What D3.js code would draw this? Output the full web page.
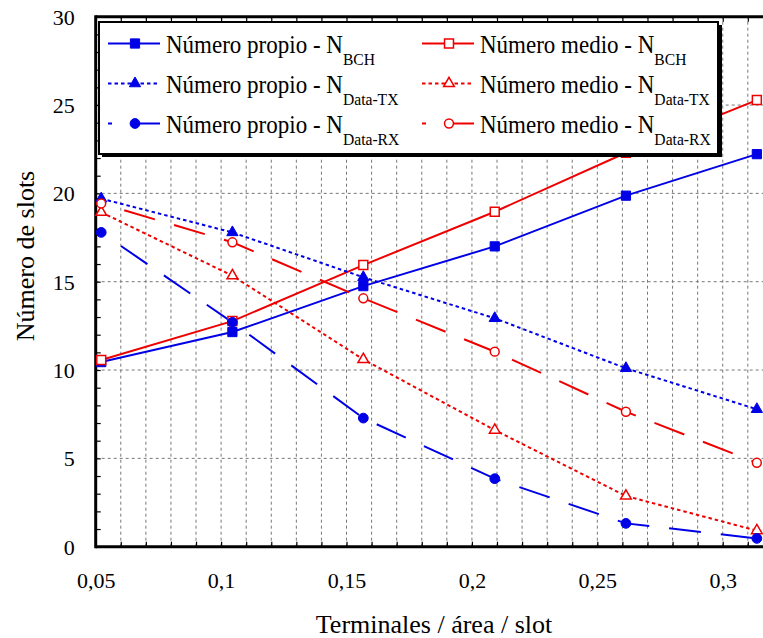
<!DOCTYPE html>
<html>
<head>
<meta charset="utf-8">
<script src="https://cdn.jsdelivr.net/npm/d3@7"></script>
<style>
  html, body { margin: 0; padding: 0; background: #fff; }
  svg { display: block; }
  text { font-family: "Liberation Serif", "Times New Roman", serif; fill: #000; }
</style>
</head>
<body>
<svg id="chart" width="763" height="638"></svg>
<script>
// Load (terminals / area / slot) on the x axis
const xValues = [0.0522, 0.1045, 0.1567, 0.2091, 0.2614, 0.3136];

// Number of slots per channel type
const propioBCH = [10.45, 12.15, 14.75, 17.0, 19.87, 22.22];
const medioBCH  = [10.57, 12.77, 15.94, 18.96, 22.3, 25.28];
const propioTX  = [19.7, 17.79, 15.25, 12.93, 10.1, 7.78];
const medioTX   = [18.93, 15.34, 10.6, 6.6, 2.87, 0.91];
const propioRX  = [17.79, 12.7, 7.28, 3.85, 1.32, 0.47];
const medioRX   = [19.43, 17.23, 14.06, 11.04, 7.64, 4.75];

const xTicks = [0.05, 0.1, 0.15, 0.2, 0.25, 0.3];
const xTickLabels = ["0,05", "0,1", "0,15", "0,2", "0,25", "0,3"];
const yTicks = [0, 5, 10, 15, 20, 25, 30];
const yTickLabels = ["0", "5", "10", "15", "20", "25", "30"];

const seriesNames = [
  ["Número propio - N", "BCH"],
  ["Número medio - N", "BCH"],
  ["Número propio - N", "Data-TX"],
  ["Número medio - N", "Data-TX"],
  ["Número propio - N", "Data-RX"],
  ["Número medio - N", "Data-RX"]
];

const BLUE = "#0000e6", RED = "#ee0000";
const DOT = "3.5,3", LONG = "32,20";

const series = [
  { values: propioBCH, color: BLUE, dash: null, shape: d3.symbolSquare, size: 85, filled: true },
  { values: medioBCH,  color: RED,  dash: null, shape: d3.symbolSquare, size: 80, filled: false },
  { values: propioTX,  color: BLUE, dash: DOT,  shape: d3.symbolTriangle, size: 55, filled: true },
  { values: medioTX,   color: RED,  dash: DOT,  shape: d3.symbolTriangle, size: 50, filled: false },
  { values: propioRX,  color: BLUE, dash: LONG, shape: d3.symbolCircle, size: 75, filled: true },
  { values: medioRX,   color: RED,  dash: LONG, shape: d3.symbolCircle, size: 62, filled: false }
];

const svg = d3.select("#chart");
const x = d3.scaleLinear().domain([0.05, 0.32]).range([95.7, 772.9]);
const y = d3.scaleLinear().domain([0, 30]).range([546.7, 16.7]);
const [x0, x1] = x.range();
const [yb, yt] = y.range();

// grid
const grid = svg.append("g").attr("stroke", "#777").attr("stroke-width", 1)
  .attr("stroke-dasharray", "3,3");
grid.selectAll("line.v").data(d3.range(6, 32).map(i => i / 100)).join("line")
  .attr("x1", d => x(d)).attr("x2", d => x(d))
  .attr("y1", yb).attr("y2", yt);
grid.selectAll("line.h").data([5, 10, 15, 20, 25]).join("line")
  .attr("x1", x0).attr("x2", x1)
  .attr("y1", d => y(d)).attr("y2", d => y(d));

// minor ticks pointing into the plot
const minorX = d3.range(5, 32).map(i => i / 100);
svg.append("g").attr("transform", `translate(0,${yb})`)
  .call(d3.axisBottom(x).tickValues(minorX).tickSize(-5).tickFormat(""))
  .call(g => g.select(".domain").remove())
  .call(g => g.selectAll("line").attr("stroke", "#000").attr("stroke-width", 1.2));
svg.append("g").attr("transform", `translate(0,${yt})`)
  .call(d3.axisTop(x).tickValues(minorX).tickSize(-5).tickFormat(""))
  .call(g => g.select(".domain").remove())
  .call(g => g.selectAll("line").attr("stroke", "#000").attr("stroke-width", 1.2));
svg.append("g").attr("transform", `translate(${x0},0)`)
  .call(d3.axisLeft(y).tickValues(d3.range(0, 31)).tickSize(-5).tickFormat(""))
  .call(g => g.select(".domain").remove())
  .call(g => g.selectAll("line").attr("stroke", "#000").attr("stroke-width", 1.2));

// tick labels
svg.append("g").attr("transform", `translate(0,${yb})`)
  .call(d3.axisBottom(x).tickValues(xTicks).tickSize(0).tickPadding(0)
    .tickFormat((d, i) => xTickLabels[i]))
  .call(g => g.select(".domain").remove())
  .call(g => g.selectAll("text").attr("y", 41).attr("dy", null)
    .style("font-size", "22px").style("font-family", "Liberation Serif"));
svg.append("g").attr("transform", `translate(${x0},0)`)
  .call(d3.axisLeft(y).tickValues(yTicks).tickSize(0).tickPadding(0)
    .tickFormat((d, i) => yTickLabels[i]))
  .call(g => g.select(".domain").remove())
  .call(g => g.selectAll("text").attr("x", -21).attr("dy", "0.34em")
    .style("font-size", "22px").style("font-family", "Liberation Serif"));

// frame lines
svg.append("line").attr("x1", x0).attr("x2", 763).attr("y1", yb).attr("y2", yb)
  .attr("stroke", "#000").attr("stroke-width", 3);
svg.append("line").attr("x1", x0).attr("x2", 763).attr("y1", yt).attr("y2", yt)
  .attr("stroke", "#000").attr("stroke-width", 3);
svg.append("line").attr("x1", x0).attr("x2", x0).attr("y1", yt - 1.5).attr("y2", yb + 1.5)
  .attr("stroke", "#000").attr("stroke-width", 3);

// axis titles
svg.append("text").attr("x", 434).attr("y", 633).attr("text-anchor", "middle")
  .style("font-size", "26px").text("Terminales / área / slot");
svg.append("text").attr("transform", "translate(34,256) rotate(-90)")
  .attr("text-anchor", "middle").style("font-size", "26px").text("Número de slots");

// series
const line = d3.line().x(d => x(d[0])).y(d => y(d[1]));
const plot = svg.append("g");
series.forEach(s => {
  const pts = xValues.map((xv, i) => [xv, s.values[i]]);
  plot.append("path").datum(pts).attr("d", line)
    .attr("fill", "none").attr("stroke", s.color).attr("stroke-width", 2)
    .attr("stroke-dasharray", s.dash)
    .attr("stroke-dashoffset", s.dash === LONG ? 28 : 0);
});
series.forEach(s => {
  const sym = d3.symbol().type(s.shape).size(s.size);
  plot.selectAll(null).data(xValues.map((xv, i) => [xv, s.values[i]])).join("path")
    .attr("transform", d => `translate(${x(d[0])},${y(d[1])})`)
    .attr("d", sym)
    .attr("fill", s.filled ? s.color : "#fff")
    .attr("stroke", s.color).attr("stroke-width", s.filled ? 1 : 1.5);
});

// legend
const lg = svg.append("g");
lg.append("rect").attr("x", 102).attr("y", 25).attr("width", 620).attr("height", 132).attr("fill", "#000");
lg.append("rect").attr("x", 99).attr("y", 22).attr("width", 619).attr("height", 132)
  .attr("fill", "#fff").attr("stroke", "#000").attr("stroke-width", 2);
const colX = [108, 422];
series.forEach((s, i) => {
  const cx = colX[i % 2];
  const row = Math.floor(i / 2);
  const ly = 43.5 + row * 40;
  lg.append("line").attr("x1", cx).attr("x2", cx + 52).attr("y1", ly).attr("y2", ly)
    .attr("stroke", s.color).attr("stroke-width", 2)
    .attr("stroke-dasharray", s.dash).attr("stroke-dashoffset", s.dash === LONG ? 28 : 0);
  lg.append("path").attr("transform", `translate(${cx + 27},${ly})`)
    .attr("d", d3.symbol().type(s.shape).size(s.size))
    .attr("fill", s.filled ? s.color : "#fff")
    .attr("stroke", s.color).attr("stroke-width", s.filled ? 1 : 1.5);
  // legend labels are set slightly condensed
  const t = lg.append("text")
    .attr("transform", `translate(${cx + 58},${ly + 9}) scale(0.92,1)`)
    .style("font-size", "25px");
  t.append("tspan").text(seriesNames[i][0]);
  t.append("tspan").attr("dy", 12).style("font-size", "17px").text(seriesNames[i][1]);
});
</script>
</body>
</html>
